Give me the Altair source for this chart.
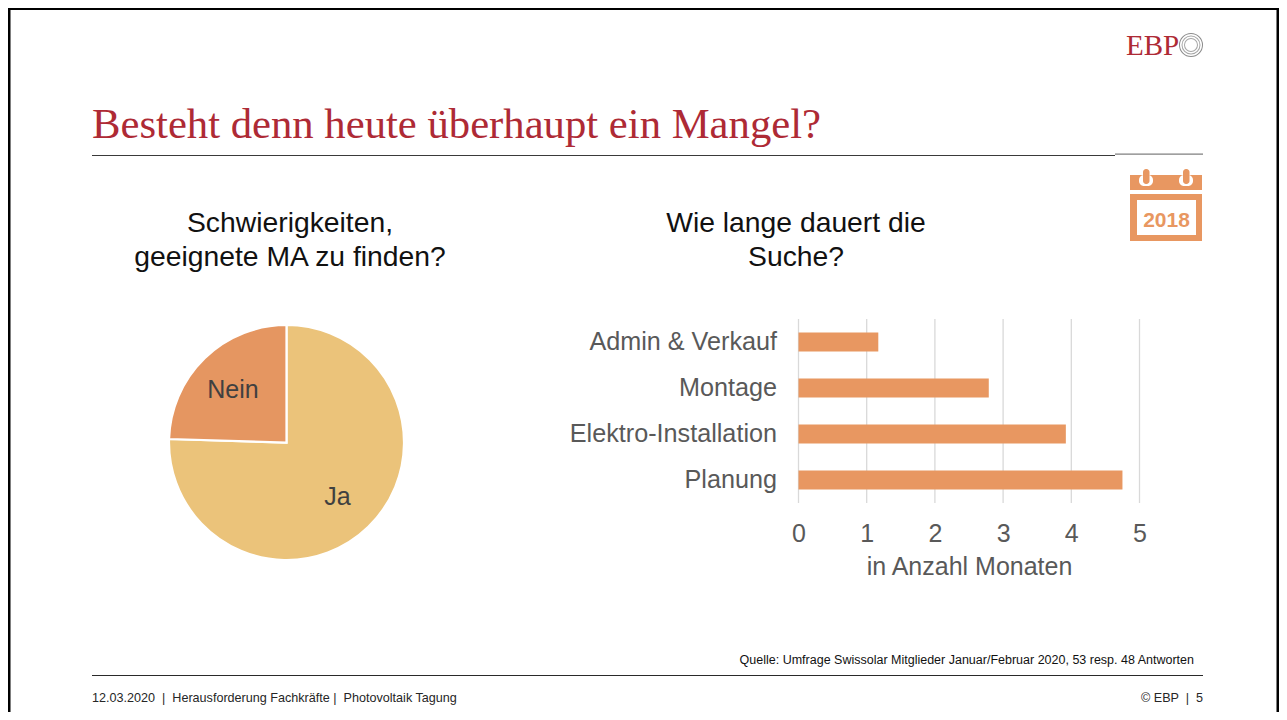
import altair as alt
import pandas as pd

# ---- data ----
pie_labels = ["Ja", "Nein"]
pie_counts = [40, 13]
pie_rank = [1, 2]
pie_colors = ["#EBC37A", "#E59661"]

bar_categories = ["Admin & Verkauf", "Montage", "Elektro-Installation", "Planung"]
bar_values = [1.17, 2.79, 3.92, 4.75]
x_ticks = [0, 1, 2, 3, 4, 5]

W, H = 1271, 704
SANS = "Liberation Sans"
SERIF = "Liberation Serif"
RED = "#AE2A35"
ORANGE = "#E89761"
NB = "\u00a0"


def px(v):  # reference page pixel -> chart pixel
    return v - 8


one = alt.Data(values=[{"k": 0}])


def rect(x0, x1, y0, y1, color, **kw):
    return alt.Chart(one).mark_rect(color=color, **kw).encode(
        x=alt.value(px(x0)), x2=alt.value(px(x1)),
        y=alt.value(px(y0)), y2=alt.value(px(y1)))


def label(text, x, y, size, color="#111111", font=SANS, align="center", **kw):
    return alt.Chart(alt.Data(values=[{"t": text}])).mark_text(
        font=font, fontSize=size, color=color, align=align, baseline="middle", **kw
    ).encode(x=alt.value(px(x)), y=alt.value(px(y)), text="t:N")


def ring(r, color, width):
    return alt.Chart(one).mark_arc(
        radius=r, radius2=r - width, theta=0, theta2=6.2832, color=color
    ).encode(x=alt.value(px(1191)), y=alt.value(px(45)))


# ---- pie ----
pie_df = pd.DataFrame({"label": pie_labels, "count": pie_counts, "rank": pie_rank})
pie = alt.Chart(pie_df).mark_arc(outerRadius=117.5, stroke="#FFFFFF", strokeWidth=2.2).encode(
    theta=alt.Theta("count:Q", stack=True),
    order=alt.Order("rank:Q"),
    x=alt.value(px(286.5)),
    y=alt.value(px(442.5)),
    color=alt.Color("label:N", scale=alt.Scale(domain=pie_labels, range=pie_colors), legend=None),
)
pie_text = alt.Chart(pie_df).mark_text(
    radius=75, font=SANS, fontSize=25, color="#404040", baseline="middle", align="center"
).encode(
    theta=alt.Theta("count:Q", stack=True),
    order=alt.Order("rank:Q"),
    x=alt.value(px(285.2)),
    y=alt.value(px(443.5)),
    text="label:N",
)

# ---- bars ----
x_scale = alt.Scale(domain=[0, 5], range=[px(798.5), px(1139.5)], nice=False)
y_scale = alt.Scale(domain=bar_categories, range=[px(319), px(503)],
                    paddingInner=0.59, paddingOuter=0.295)
x_axis = alt.Axis(
    values=x_ticks, format="d", orient="bottom", offset=px(503) - H, grid=False,
    domain=False, ticks=False, labelFont=SANS, labelFontSize=25, labelColor="#595959",
    labelPadding=18, labelFlush=False,
    title="in Anzahl Monaten", titleFont=SANS, titleFontSize=25, titleFontWeight="normal",
    titleColor="#595959", titlePadding=8, titleAnchor="middle")

grid = alt.Chart(pd.DataFrame({"tick": x_ticks})).mark_rule(
    color="#D9D9D9", strokeWidth=1.3
).encode(
    x=alt.X("tick:Q", scale=x_scale, axis=x_axis),
    y=alt.value(px(319)), y2=alt.value(px(503)),
)

bars = alt.Chart(pd.DataFrame({"cat": bar_categories, "val": bar_values})).mark_bar(
    color=ORANGE
).encode(
    x=alt.X("val:Q", scale=x_scale, axis=x_axis),
    y=alt.Y("cat:N", scale=y_scale, sort=bar_categories, axis=alt.Axis(
        orient="left", offset=-px(798.5), grid=False, domain=False, ticks=False,
        labelFont=SANS, labelFontSize=25.2, labelColor="#595959", labelPadding=22,
        labelLimit=400, title=None)),
)

# ---- slide furniture ----
layers = [
    # frame
    rect(8, 10.5, 8, 712, "#000000"),
    rect(8, 1279, 8, 10, "#000000"),
    rect(1276.5, 1279, 8, 712, "#000000"),
    # title & rules
    label("Besteht denn heute überhaupt ein Mangel?", 92, 125, 42.7, RED, SERIF, "left"),
    rect(92, 1115, 155, 156, "#3A3A3A"),
    rect(1115, 1203, 153.5, 154.8, "#7F7F7F"),
    rect(92, 1203, 675, 676, "#2A2A2A"),
    # logo
    label("EBP", 1126, 46, 29, RED, SERIF, "left"),
    ring(12, "#8C8C8C", 1), ring(9.5, "#A6A6A6", 1), ring(7, "#A6A6A6", 1),
    # calendar
    rect(1130, 1202, 175, 190, ORANGE),
    rect(1139, 1153, 175, 186, "#FFFFFF", cornerRadius=5),
    rect(1179, 1193, 175, 186, "#FFFFFF", cornerRadius=5),
    rect(1143, 1149.5, 169, 184, ORANGE, cornerRadius=3),
    rect(1183, 1189.5, 169, 184, ORANGE, cornerRadius=3),
    rect(1130, 1202, 194, 241, ORANGE),
    rect(1137, 1196, 200, 235, "#FFFFFF"),
    label("2018", 1166.5, 220.5, 21, ORANGE, fontWeight="bold"),
    # headings
    label("Schwierigkeiten,", 290, 224, 28.3),
    label("geeignete MA zu finden?", 290, 258, 28.3),
    label("Wie lange dauert die", 796, 224, 28.3),
    label("Suche?", 796, 258, 28.3),
    # charts
    pie, pie_text, grid, bars,
    # footer
    label("Quelle: Umfrage Swissolar Mitglieder Januar/Februar 2020, 53 resp. 48 Antworten",
          1194, 660, 12.5, align="right"),
    label(f"12.03.2020 {NB}|{NB} Herausforderung Fachkräfte |{NB} Photovoltaik Tagung",
          92, 698, 12.6, "#262626", align="left"),
    label(f"© EBP {NB}|{NB} 5", 1203, 698, 12.6, "#262626", align="right"),
]

chart = alt.layer(*layers).resolve_scale(color="independent", theta="shared").properties(
    width=W, height=H, padding=0, autosize=alt.AutoSizeParams(type="none"),
    background="#FFFFFF",
).configure_view(stroke=None)

chart.save("out.html", embed_options={"renderer": "svg", "actions": False})
